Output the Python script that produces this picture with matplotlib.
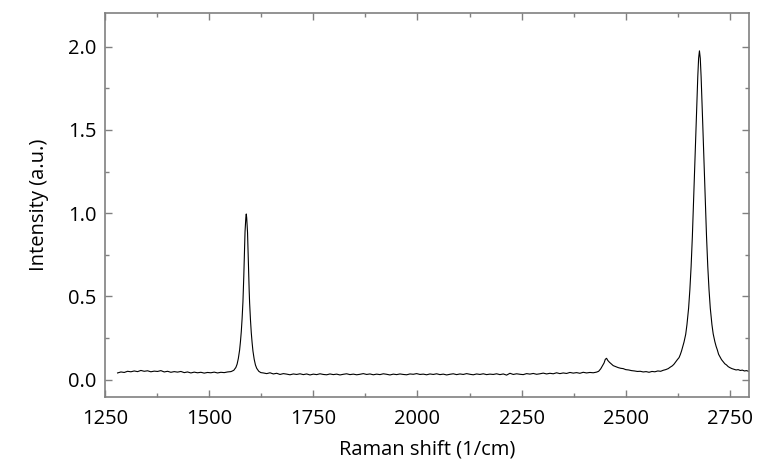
import matplotlib
matplotlib.use("Agg")
import matplotlib.pyplot as plt
from matplotlib.ticker import MultipleLocator, FormatStrFormatter

plt.rcParams["font.family"] = ["Open Sans", "DejaVu Sans"]

AXIS_GREY = "#808080"

# --- data ---
# flat baseline before the G band (1280..1552, step 8)
shift_a = list(range(1280, 1553, 8))
inten_a = [0.040, 0.046, 0.043, 0.050, 0.047, 0.052, 0.048, 0.055, 0.050, 0.053,
           0.047, 0.051, 0.049, 0.054, 0.046, 0.050, 0.044, 0.048, 0.045, 0.049,
           0.042, 0.046, 0.040, 0.045, 0.041, 0.044, 0.039, 0.043, 0.041, 0.045,
           0.040, 0.044, 0.042, 0.046, 0.048]

# G band around 1589
shift_g = [1554, 1559, 1564, 1567, 1570, 1573, 1575, 1577, 1579, 1581, 1582, 1583,
           1584, 1585, 1586, 1587, 1588, 1589, 1590, 1591, 1592, 1593, 1594, 1595,
           1596, 1597, 1599, 1601, 1603, 1605, 1608, 1611, 1614, 1619, 1624]
inten_g = [0.050, 0.056, 0.073, 0.093, 0.128, 0.178, 0.228, 0.288, 0.368, 0.468,
           0.538, 0.618, 0.708, 0.798, 0.888, 0.935, 0.975, 0.995, 0.972, 0.930,
           0.885, 0.795, 0.705, 0.612, 0.532, 0.462, 0.362, 0.282, 0.222, 0.172,
           0.122, 0.088, 0.068, 0.050, 0.042]

# long flat stretch (1630..2422, step 8)
shift_b = list(range(1630, 2423, 8))
inten_b = [0.040, 0.036, 0.041, 0.034, 0.038, 0.031, 0.036, 0.033, 0.029, 0.034,
           0.031, 0.035, 0.030, 0.034, 0.028, 0.033, 0.030, 0.035, 0.031, 0.029,
           0.034, 0.030, 0.033, 0.028, 0.032, 0.035, 0.030, 0.033, 0.029, 0.032,
           0.036, 0.031, 0.034, 0.029, 0.033, 0.030, 0.035, 0.032, 0.028, 0.033,
           0.030, 0.034, 0.031, 0.029, 0.034, 0.032, 0.036, 0.031, 0.033, 0.029,
           0.034, 0.031, 0.035, 0.030, 0.033, 0.028, 0.032, 0.035, 0.030, 0.034,
           0.031, 0.036, 0.032, 0.029, 0.034, 0.031, 0.035, 0.030, 0.033, 0.031,
           0.035, 0.030, 0.034, 0.027, 0.038, 0.031, 0.035, 0.032, 0.030, 0.036,
           0.033, 0.037, 0.032, 0.035, 0.039, 0.034, 0.038, 0.035, 0.041, 0.036,
           0.040, 0.037, 0.043, 0.039, 0.042, 0.038, 0.044, 0.040, 0.043, 0.041]

# small bump near 2450 and the foot of the 2D band
shift_c = [2430, 2435, 2440, 2444, 2448, 2451, 2454, 2457, 2461, 2465, 2470, 2476,
           2482, 2488, 2494, 2500, 2507, 2514, 2521, 2528, 2535, 2542, 2549, 2556,
           2563, 2570, 2577, 2584, 2590, 2596, 2602, 2607, 2612, 2616]
inten_c = [0.045, 0.050, 0.065, 0.082, 0.100, 0.122, 0.128, 0.115, 0.104, 0.095,
           0.084, 0.078, 0.072, 0.068, 0.066, 0.060, 0.058, 0.054, 0.052, 0.049,
           0.050, 0.046, 0.048, 0.044, 0.049, 0.047, 0.052, 0.050, 0.056, 0.060,
           0.066, 0.075, 0.083, 0.093]

# 2D band around 2677 and the tail to the right edge
shift_2d = [2624, 2628, 2631, 2634, 2637, 2640, 2642, 2644, 2647, 2651, 2654, 2657,
            2660, 2663, 2665, 2667, 2669, 2671, 2673, 2675, 2677, 2679, 2681, 2683,
            2685, 2687, 2689, 2691, 2694, 2697, 2700, 2703, 2707, 2710, 2712, 2714,
            2717, 2720, 2723, 2726, 2730, 2734, 2738, 2742, 2746, 2750, 2755, 2760,
            2765, 2770, 2775, 2780, 2785, 2790, 2795]
inten_2d = [0.120, 0.132, 0.150, 0.172, 0.200, 0.226, 0.250, 0.272, 0.330, 0.430,
            0.540, 0.680, 0.860, 1.080, 1.230, 1.380, 1.530, 1.680, 1.820, 1.930,
            1.975, 1.930, 1.820, 1.680, 1.530, 1.380, 1.230, 1.080, 0.860, 0.680,
            0.540, 0.430, 0.330, 0.275, 0.250, 0.228, 0.200, 0.178, 0.152, 0.138,
            0.120, 0.108, 0.095, 0.088, 0.078, 0.072, 0.066, 0.062, 0.058, 0.060,
            0.055, 0.057, 0.052, 0.054, 0.050]

shift = shift_a + shift_g + shift_b + shift_c + shift_2d
inten = inten_a + inten_g + inten_b + inten_c + inten_2d

fig, ax = plt.subplots(figsize=(7.67, 4.61), dpi=100)
fig.subplots_adjust(left=0.137, right=0.976, top=0.972, bottom=0.139)

ax.plot(shift, inten, color="black", lw=0.8)

ax.set_xlim(1250, 2795)
ax.set_ylim(-0.104, 2.203)
ax.xaxis.set_major_locator(MultipleLocator(250))
ax.xaxis.set_minor_locator(MultipleLocator(125))
ax.yaxis.set_major_locator(MultipleLocator(0.5))
ax.yaxis.set_minor_locator(MultipleLocator(0.25))
ax.yaxis.set_major_formatter(FormatStrFormatter("%.1f"))

ax.set_xlabel("Raman shift (1/cm)", fontsize=14.5, labelpad=7)
ax.set_ylabel("Intensity (a.u.)", fontsize=14.5, labelpad=14)

ax.tick_params(which="both", direction="in", top=True, right=True,
               color=AXIS_GREY, labelsize=14.5)
ax.tick_params(axis="x", pad=9)
ax.tick_params(axis="y", pad=6)
ax.tick_params(which="major", length=5, width=1)
ax.tick_params(which="minor", length=3, width=1)
for spine in ax.spines.values():
    spine.set_color(AXIS_GREY)
    spine.set_linewidth(1.2)

fig.savefig("out.png", dpi=100)
